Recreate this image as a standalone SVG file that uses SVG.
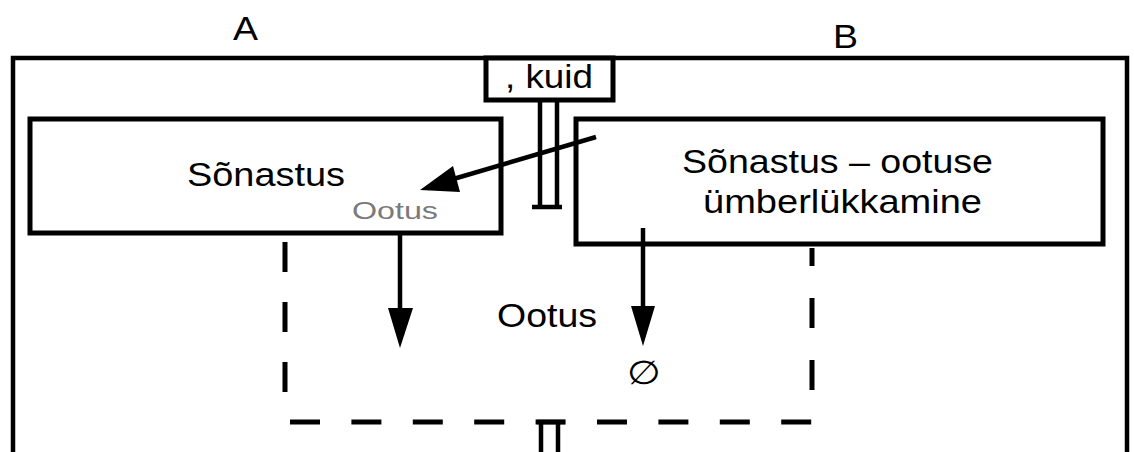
<svg xmlns="http://www.w3.org/2000/svg" width="1134" height="452" viewBox="0 0 1134 452">
<defs>
<style>
.box{fill:#fff;stroke:#000;stroke-width:5}
.ln{fill:none;stroke:#000;stroke-width:4.5}
.dash{fill:none;stroke:#000;stroke-width:5;stroke-dasharray:30 30}
.t{font-family:"Liberation Sans",Arial,sans-serif;font-size:33px;fill:#000}
.g{font-family:"Liberation Sans",Arial,sans-serif;font-size:23px;fill:#7a7a7a}
</style>
</defs>
<rect width="1134" height="452" fill="#fff"/>
<g id="labels">
<text class="t" x="233" y="40" textLength="25" lengthAdjust="spacingAndGlyphs" font-size="37">A</text>
<text class="t" x="833" y="48" textLength="25" lengthAdjust="spacingAndGlyphs" font-size="37">B</text>
</g>
<g id="frame">
<path class="ln" d="M13,460 V58 H1127 V460" stroke-width="5"/>
</g>
<g id="kuid">
<rect class="box" x="486" y="58" width="127" height="42"/>
<text class="t" x="505" y="88" textLength="88" lengthAdjust="spacingAndGlyphs">, kuid</text>
</g>
<g id="expectation-area">
<path class="dash" d="M285,242 V400"/>
<path class="dash" d="M290,422 H813" style="stroke-dasharray:30 31.4"/>
<path class="dash" d="M812,390 V248" style="stroke-dasharray:30 32"/>
<text class="t" x="497" y="327" textLength="100" lengthAdjust="spacingAndGlyphs">Ootus</text>
<text class="t" x="627" y="384" textLength="34" lengthAdjust="spacingAndGlyphs" font-size="37">∅</text>
</g>
<g id="left-box">
<rect class="box" x="30" y="119" width="471" height="114"/>
<text class="t" x="187" y="186" textLength="158" lengthAdjust="spacingAndGlyphs">Sõnastus</text>
<text class="g" x="352" y="219" textLength="86" lengthAdjust="spacingAndGlyphs">Ootus</text>
</g>
<g id="right-box">
<rect class="box" x="576" y="119" width="527" height="125"/>
<text class="t" x="682" y="173" textLength="311" lengthAdjust="spacingAndGlyphs">Sõnastus – ootuse</text>
<text class="t" x="703" y="213" textLength="279" lengthAdjust="spacingAndGlyphs">ümberlükkamine</text>
</g>
<g id="connectors">
<path class="ln" d="M540,100 V207 M557,100 V207 M532,207 H562"/>
<path class="ln" d="M541,422 V460 M558,422 V460 M537,422 H565"/>
<line class="ln" x1="596" y1="137" x2="450" y2="180"/>
<polygon points="420,190 453,166 460,192" fill="#000"/>
<line class="ln" x1="400" y1="233" x2="400" y2="312"/>
<polygon points="388,308 413,308 400,348" fill="#000"/>
<line class="ln" x1="643" y1="228" x2="643" y2="310"/>
<polygon points="631,306 655,306 643,346" fill="#000"/>
</g>
</svg>
